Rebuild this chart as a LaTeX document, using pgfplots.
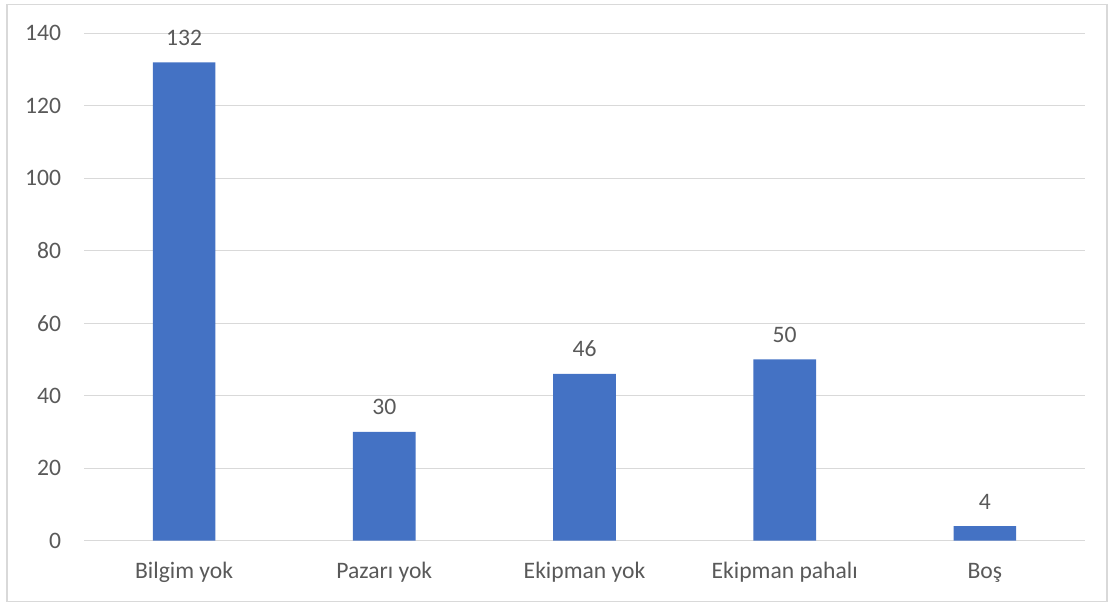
\documentclass[border=0pt]{standalone}
\usepackage{fontspec}
\setmainfont{Carlito}
\usepackage{pgfplots}
\pgfplotsset{compat=1.18}
\definecolor{barblue}{RGB}{68,114,196}
\definecolor{gridgray}{RGB}{217,217,217}
\definecolor{txtgray}{RGB}{89,89,89}
\begin{document}
\begin{tikzpicture}
\path[use as bounding box] (0pt,0pt) rectangle (831.75pt,-452.25pt);
\draw[gridgray, line width=0.9pt] (5.25pt,-3.5pt) rectangle (830.25pt,-451.1pt);
\begin{axis}[
  at={(63pt,-405.5pt)}, anchor=south west,
  scale only axis,
  width=750.75pt, height=380.55pt,
  xmin=-0.5, xmax=4.5,
  ymin=0, ymax=140,
  ytick={0,20,...,140},
  xtick={0,1,2,3,4},
  xticklabels={Bilgim yok, Pazarı yok, Ekipman yok, Ekipman pahalı, Boş},
  axis line style={draw=none},
  major tick length=0pt,
  ymajorgrids,
  grid style={gridgray, line width=0.9pt},
  /pgf/number format/assume math mode=true,
  tick label style={font=\fontsize{17.7}{20}\selectfont, text=txtgray, inner sep=0pt},
  yticklabel style={anchor=east, xshift=-17pt},
  xticklabel style={anchor=base, yshift=-28.5pt},
  ybar, bar width=47pt,
  nodes near coords,
  every node near coord/.append style={font=\fontsize{17.7}{20}\selectfont, text=txtgray, anchor=base, inner sep=0pt, yshift=12.75pt},
  clip=false,
]
\addplot[fill=barblue, draw=none] coordinates {(0,132) (1,30) (2,46) (3,50) (4,4)};
\end{axis}
\end{tikzpicture}
\end{document}
